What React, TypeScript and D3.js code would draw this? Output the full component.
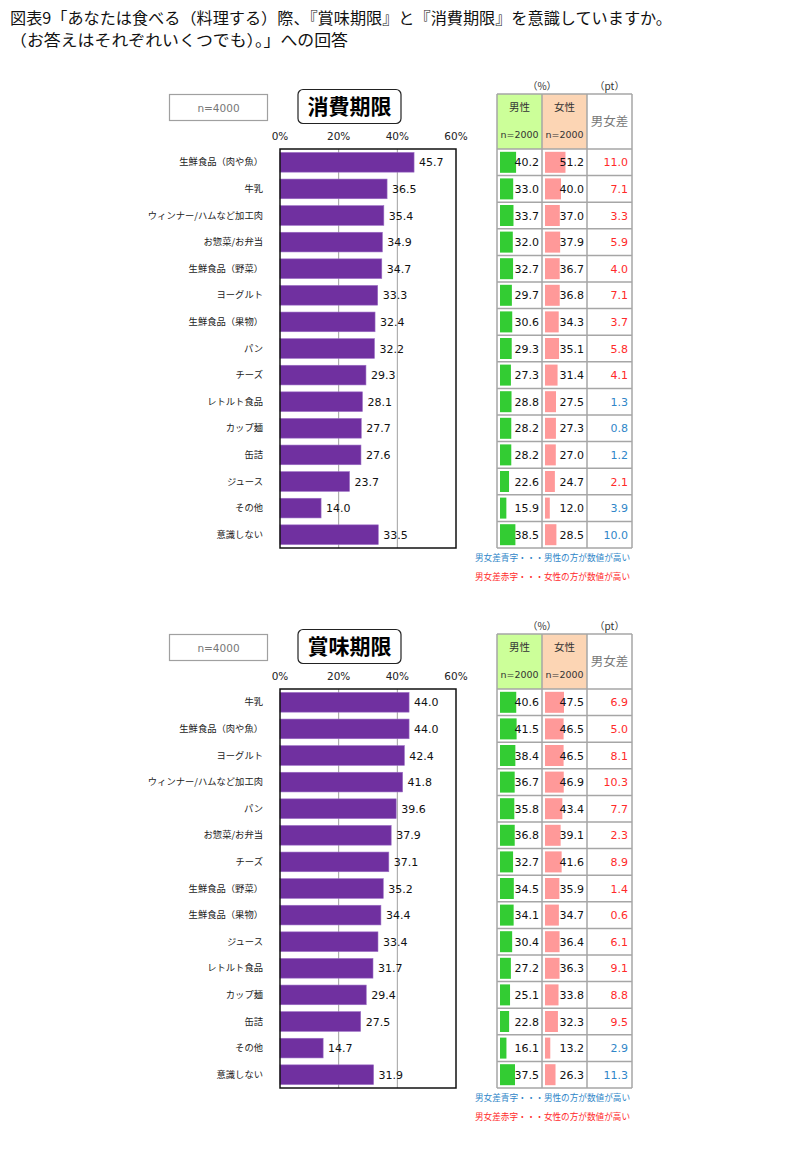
import React from "react";
import * as d3 from "d3";

const titleLine1 = "図表9「あなたは食べる（料理する）際、『賞味期限』と『消費期限』を意識していますか。";
const titleLine2 = "（お答えはそれぞれいくつでも）。」への回答";

const axisTicks = [0, 20, 40, 60];

// 消費期限
const catsShohi = ["生鮮食品（肉や魚）", "牛乳", "ウィンナー/ハムなど加工肉", "お惣菜/お弁当", "生鮮食品（野菜）", "ヨーグルト", "生鮮食品（果物）", "パン", "チーズ", "レトルト食品", "カップ麺", "缶詰", "ジュース", "その他", "意識しない"];
const totalShohi = [45.7, 36.5, 35.4, 34.9, 34.7, 33.3, 32.4, 32.2, 29.3, 28.1, 27.7, 27.6, 23.7, 14.0, 33.5];
const maleShohi = [40.2, 33.0, 33.7, 32.0, 32.7, 29.7, 30.6, 29.3, 27.3, 28.8, 28.2, 28.2, 22.6, 15.9, 38.5];
const femaleShohi = [51.2, 40.0, 37.0, 37.9, 36.7, 36.8, 34.3, 35.1, 31.4, 27.5, 27.3, 27.0, 24.7, 12.0, 28.5];
const diffShohi = [11.0, 7.1, 3.3, 5.9, 4.0, 7.1, 3.7, 5.8, 4.1, 1.3, 0.8, 1.2, 2.1, 3.9, 10.0];

// 賞味期限
const catsShomi = ["牛乳", "生鮮食品（肉や魚）", "ヨーグルト", "ウィンナー/ハムなど加工肉", "パン", "お惣菜/お弁当", "チーズ", "生鮮食品（野菜）", "生鮮食品（果物）", "ジュース", "レトルト食品", "カップ麺", "缶詰", "その他", "意識しない"];
const totalShomi = [44.0, 44.0, 42.4, 41.8, 39.6, 37.9, 37.1, 35.2, 34.4, 33.4, 31.7, 29.4, 27.5, 14.7, 31.9];
const maleShomi = [40.6, 41.5, 38.4, 36.7, 35.8, 36.8, 32.7, 34.5, 34.1, 30.4, 27.2, 25.1, 22.8, 16.1, 37.5];
const femaleShomi = [47.5, 46.5, 46.5, 46.9, 43.4, 39.1, 41.6, 35.9, 34.7, 36.4, 36.3, 33.8, 32.3, 13.2, 26.3];
const diffShomi = [6.9, 5.0, 8.1, 10.3, 7.7, 2.3, 8.9, 1.4, 0.6, 6.1, 9.1, 8.8, 9.5, 2.9, 11.3];

const JP = "'Noto Sans CJK JP', 'Noto Sans', sans-serif";
const NUM = "'DejaVu Sans', Verdana, sans-serif";
const PURPLE = "#7030a0";
const GREEN = "#33cc33";
const PINK = "#ff9999";
const RED = "#ff2a2a";
const BLUE = "#2f86c8";
const GRID = "#a6a6a6";

type PanelProps = {
  y0: number;
  title: string;
  cats: string[];
  total: number[];
  male: number[];
  female: number[];
  diff: number[];
};

function Panel({ y0, title, cats, total, male, female, diff }: PanelProps) {
  const plotLeft = 280, plotRight = 456, plotTop = 149, plotBottom = 548;
  const x = d3.scaleLinear().domain([0, 60]).range([plotLeft, plotRight]);
  const y = d3.scaleBand<string>().domain(cats).range([plotTop, plotBottom]).paddingInner(0.26).paddingOuter(0.13);
  const rowBand = d3.scaleBand<string>().domain(cats).range([plotTop, plotBottom]);
  const colX = [497, 542, 587, 632];
  const cellScale = d3.scaleLinear().domain([0, 100]).range([0, 40]);
  const headerTop = 94;

  return (
    <g transform={`translate(0,${y0})`}>
      {/* n box */}
      <rect x={169.5} y={94.5} width={98} height={26} fill="#fff" stroke="#a0a0a0" strokeWidth={1.2} />
      <text x={218.5} y={111.5} textAnchor="middle" fontFamily={NUM} fontSize={10.5} fill="#777">n=4000</text>
      {/* title box */}
      <rect x={298} y={89.5} width={103} height={34} rx={5} fill="#fff" stroke="#222" strokeWidth={1.2} />
      <text x={349.5} y={114} textAnchor="middle" fontFamily={JP} fontWeight={700} fontSize={21} fill="#000">{title}</text>
      {/* axis ticks */}
      {axisTicks.map((t) => (
        <text key={t} x={x(t)} y={140} textAnchor="middle" fontFamily={NUM} fontSize={10.5} fill="#222">{t}%</text>
      ))}
      {/* gridlines */}
      {axisTicks.slice(1, 3).map((t) => (
        <line key={t} x1={x(t)} x2={x(t)} y1={plotTop} y2={plotBottom} stroke="#a0a0a0" strokeWidth={1} />
      ))}
      {/* bars */}
      {cats.map((c, i) => (
        <g key={c}>
          <rect x={x(0)} y={y(c)!} width={x(total[i]) - x(0)} height={y.bandwidth()} fill={PURPLE} stroke="#9a6cc4" strokeWidth={0.6} />
          <text x={x(total[i]) + 5} y={y(c)! + y.bandwidth() / 2 + 4} fontFamily={NUM} fontSize={11} fill="#111">{total[i].toFixed(1)}</text>
          <text x={263} y={y(c)! + y.bandwidth() / 2 + 3} textAnchor="end" fontFamily={JP} fontSize={9.3} fill="#222">{c}</text>
        </g>
      ))}
      {/* plot frame */}
      <rect x={plotLeft} y={plotTop} width={plotRight - plotLeft} height={plotBottom - plotTop} fill="none" stroke="#111" strokeWidth={1.5} />

      {/* table header */}
      <text x={colX[1]} y={90} textAnchor="middle" fontFamily={JP} fontSize={10} fill="#333">（%）</text>
      <text x={(colX[2] + colX[3]) / 2} y={90} textAnchor="middle" fontFamily={JP} fontSize={10} fill="#333">（pt）</text>
      <rect x={colX[0]} y={headerTop} width={colX[1] - colX[0]} height={plotTop - headerTop} fill="#ccff99" />
      <rect x={colX[1]} y={headerTop} width={colX[2] - colX[1]} height={plotTop - headerTop} fill="#fcd5b4" />
      <text x={(colX[0] + colX[1]) / 2} y={111} textAnchor="middle" fontFamily={JP} fontSize={10.5} fill="#333">男性</text>
      <text x={(colX[1] + colX[2]) / 2} y={111} textAnchor="middle" fontFamily={JP} fontSize={10.5} fill="#333">女性</text>
      <text x={(colX[0] + colX[1]) / 2} y={138} textAnchor="middle" fontFamily={NUM} fontSize={9.5} fill="#333">n=2000</text>
      <text x={(colX[1] + colX[2]) / 2} y={138} textAnchor="middle" fontFamily={NUM} fontSize={9.5} fill="#333">n=2000</text>
      <text x={(colX[2] + colX[3]) / 2} y={126} textAnchor="middle" fontFamily={JP} fontSize={12.5} fill="#777">男女差</text>

      {/* table rows */}
      {cats.map((c, i) => {
        const ry = rowBand(c)!;
        const rh = rowBand.bandwidth();
        const barH = 21;
        const by = ry + (rh - barH) / 2;
        const ty = ry + rh / 2 + 4;
        const maleHigher = male[i] > female[i];
        return (
          <g key={c}>
            <rect x={colX[0] + 3} y={by} width={cellScale(male[i])} height={barH} fill={GREEN} />
            <rect x={colX[1] + 3} y={by} width={cellScale(female[i])} height={barH} fill={PINK} />
            <text x={colX[1] - 3} y={ty} textAnchor="end" fontFamily={NUM} fontSize={11} fill="#111">{male[i].toFixed(1)}</text>
            <text x={colX[2] - 3} y={ty} textAnchor="end" fontFamily={NUM} fontSize={11} fill="#111">{female[i].toFixed(1)}</text>
            <text x={colX[3] - 4} y={ty} textAnchor="end" fontFamily={NUM} fontSize={11} fill={maleHigher ? BLUE : RED}>{diff[i].toFixed(1)}</text>
          </g>
        );
      })}
      {/* table grid */}
      {colX.map((cx, k) => (
        <line key={"v" + k} x1={cx} x2={cx} y1={headerTop} y2={plotBottom} stroke={GRID} strokeWidth={1.5} />
      ))}
      {[headerTop, ...cats.map((c) => rowBand(c)!), plotBottom].map((ly, k) => (
        <line key={"h" + k} x1={colX[0]} x2={colX[3]} y1={ly} y2={ly} stroke={GRID} strokeWidth={1.5} />
      ))}
      {/* notes */}
      <text x={475} y={561} fontFamily={JP} fontSize={9} fill={BLUE} textLength={155} lengthAdjust="spacingAndGlyphs">男女差青字・・・男性の方が数値が高い</text>
      <text x={475} y={580} fontFamily={JP} fontSize={9} fill={RED} textLength={155} lengthAdjust="spacingAndGlyphs">男女差赤字・・・女性の方が数値が高い</text>
    </g>
  );
}

export default function App() {
  return (
    <svg width={810} height={1168} viewBox="0 0 810 1168" style={{ position: "absolute", left: 0, top: 0, background: "#fff" }}>
      <rect x={0} y={0} width={810} height={1168} fill="#fff" />
      <text x={10} y={24} fontFamily={JP} fontSize={15.5} fill="#111" textLength={662} lengthAdjust="spacingAndGlyphs">{titleLine1}</text>
      <text x={10} y={46} fontFamily={JP} fontSize={15.5} fill="#111" textLength={338} lengthAdjust="spacingAndGlyphs">{titleLine2}</text>
      <Panel y0={0} title="消費期限" cats={catsShohi} total={totalShohi} male={maleShohi} female={femaleShohi} diff={diffShohi} />
      <Panel y0={540} title="賞味期限" cats={catsShomi} total={totalShomi} male={maleShomi} female={femaleShomi} diff={diffShomi} />
    </svg>
  );
}
